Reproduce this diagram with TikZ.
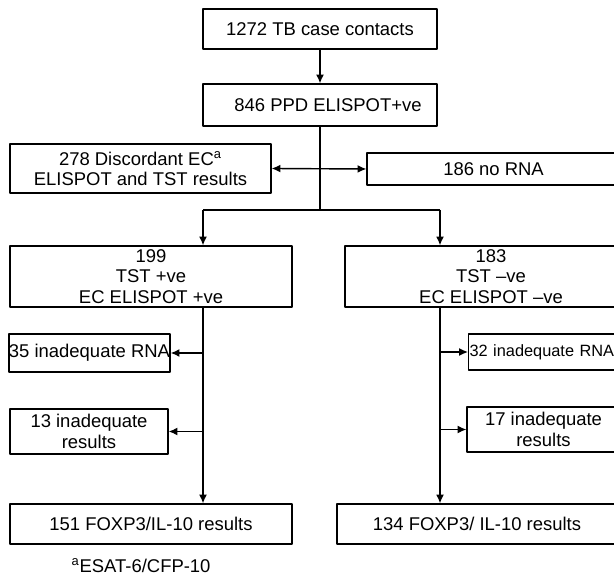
\documentclass[tikz,border=0pt]{standalone}
\usepackage{fontspec}
\setmainfont{Liberation Sans}
\usetikzlibrary{arrows,arrows.meta,positioning,calc}

\begin{document}
\begin{tikzpicture}[line join=round, >={Latex[length=5pt,width=4.5pt]},
  font=\fontsize{10.5pt}{11.5pt}\selectfont,
  box/.style={draw, line width=0.7pt, inner sep=0pt, align=center},
  link/.style={line width=0.8pt}]
\useasboundingbox (0,0) rectangle (12.28,11.58);
\clip (0,0) rectangle (12.28,11.58);
\node[box, minimum width=4.68cm, minimum height=0.80cm] (contacts) at (6.40,11.00) {1272 TB case contacts};
\node[box, minimum width=4.68cm, minimum height=0.84cm] (ppd)      at (6.40,9.48)  {\hspace{0.32cm}846 PPD ELISPOT+ve};
\node[box, minimum width=5.22cm, minimum height=0.98cm] (disc)     at (2.81,8.21)  {278 Discordant EC\textsuperscript{a}\\ELISPOT and TST results};
\node[box, minimum width=5.06cm, minimum height=0.64cm] (norna)    at (9.87,8.20)  {186 no RNA};
\node[box, minimum width=5.64cm, minimum height=1.22cm] (pos)      at (3.02,6.05)  {199\\TST +ve\\EC ELISPOT +ve};
\node[box, minimum width=5.84cm, minimum height=1.22cm] (neg)      at (9.82,6.05)  {183\\TST –ve\\EC ELISPOT –ve};
\node[box, minimum width=3.22cm, minimum height=0.76cm] (rnal)     at (1.79,4.52)  {35 inadequate RNA};
\node[box, anchor=west, text width=3.40cm, align=left, inner xsep=0.02cm,
      minimum height=0.72cm, font=\fontsize{9.3pt}{11pt}\selectfont]
                                                        (rnar)     at (9.36,4.54)  {32 inadequate RNA};
\node[box, minimum width=3.16cm, minimum height=0.90cm] (resl)     at (1.78,2.95)  {13 inadequate\\results};
\node[box, minimum width=3.06cm, minimum height=0.90cm] (resr)     at (10.87,2.99) {17 inadequate\\results};
\node[box, minimum width=5.64cm, minimum height=0.80cm] (foxl)     at (3.02,1.10)  {151 FOXP3/IL-10 results};
\node[box, minimum width=5.60cm, minimum height=0.80cm] (foxr)     at (9.54,1.10)  {134 FOXP3/ IL-10 results};
\node (note) at (2.82,0.26) {\textsuperscript{a}ESAT-6/CFP-10};
\coordinate (split) at (6.40,7.38);
\coordinate (lstem) at (4.06,7.38);
\coordinate (rstem) at (8.80,7.38);
\draw[link,->] (contacts) -- (ppd);
\draw[link] (ppd.south) -- (split);
\draw[link,<->] (disc.east) -- (norna.west);
\draw[link] (lstem) -- (rstem);
\draw[link,->] (lstem) -- (lstem |- pos.north);
\draw[link,->] (rstem) -- (rstem |- neg.north);
\draw[link,->] (lstem |- pos.south) -- (lstem |- foxl.north);
\draw[link,->] (rstem |- neg.south) -- (rstem |- foxr.north);
\draw[link,->] (lstem |- rnal.east) -- (rnal.east);
\draw[link,->] (lstem |- resl.east) -- (resl.east);
\draw[link,->] (rstem |- rnar.west) -- (rnar.west);
\draw[link,->] (rstem |- resr.west) -- (resr.west);
\end{tikzpicture}
\end{document}
